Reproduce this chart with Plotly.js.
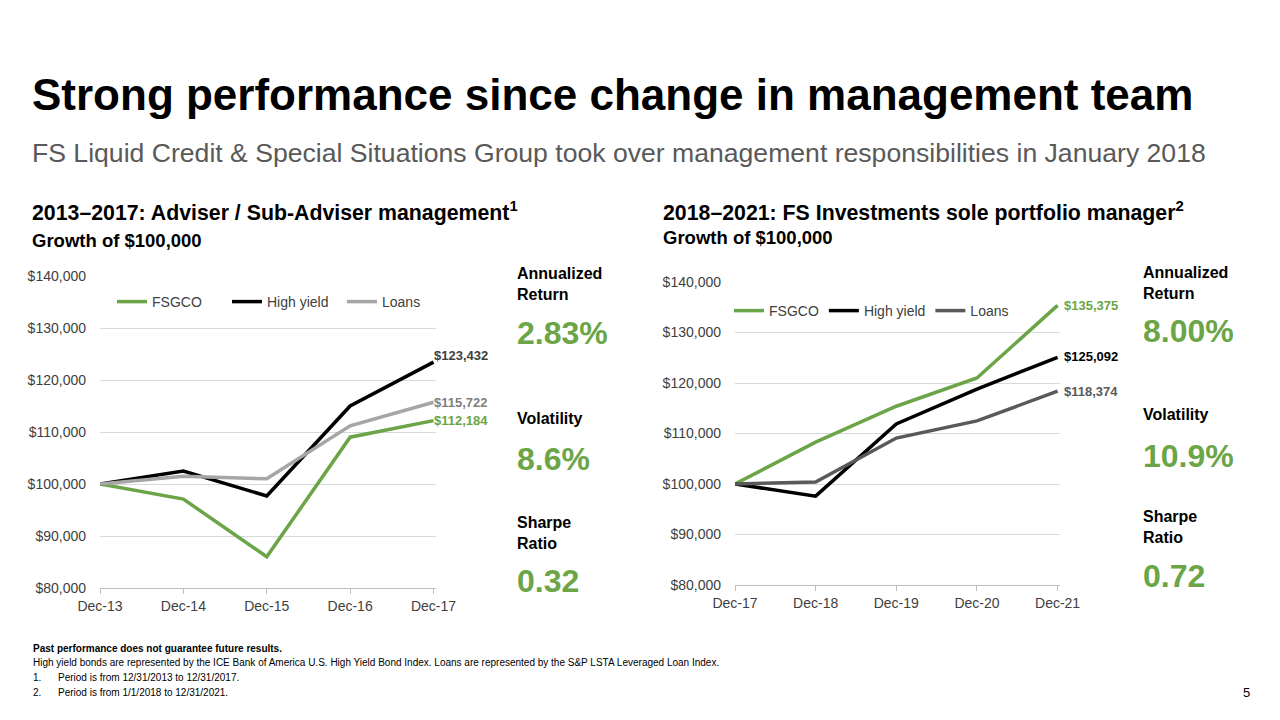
<!DOCTYPE html>
<html>
<head>
<meta charset="utf-8">
<script src="https://cdn.plot.ly/plotly-3.0.1.min.js"></script>
<style>
html,body{margin:0;padding:0;background:#fff;}
#chart{width:1280px;height:720px;}
</style>
</head>
<body>
<div id="chart"></div>
<script>
// ---- Data ----
const periodA = ["Dec-13", "Dec-14", "Dec-15", "Dec-16", "Dec-17"];
const fsgcoA = [100000, 97100, 86000, 109000, 112184];
const highYieldA = [100000, 102500, 97700, 115000, 123432];
const loansA = [100000, 101500, 101000, 111200, 115722];

const periodB = ["Dec-17", "Dec-18", "Dec-19", "Dec-20", "Dec-21"];
const fsgcoB = [100000, 108300, 115400, 121000, 135375];
const highYieldB = [100000, 97600, 111900, 118800, 125092];
const loansB = [100000, 100400, 109100, 112500, 118374];

const seriesNames = ["FSGCO", "High yield", "Loans"];
const yTickVals = [80000, 90000, 100000, 110000, 120000, 130000, 140000];
const yTickText = ["$80,000", "$90,000", "$100,000", "$110,000", "$120,000", "$130,000", "$140,000"];

const statLabels = ["Annualized<br>Return", "Volatility", "Sharpe<br>Ratio"];
const statsA = ["2.83%", "8.6%", "0.32"];
const statsB = ["8.00%", "10.9%", "0.72"];

// ---- Styling ----
const GREEN = "#6BA547";
const BLACK = "#000000";
const LGRAY = "#A6A6A6";
const DGRAY = "#595959";
const FONT = "Liberation Sans, Arial, Helvetica, sans-serif";

const px = x => x / 1280;
const py = y => 1 - y / 720;

function line(x, y, name, color, xa, ya, legend) {
  return {x: x, y: y, name: name, type: "scatter", mode: "lines",
    line: {color: color, width: 3.5}, xaxis: xa, yaxis: ya, legend: legend,
    hoverinfo: "skip"};
}

const data = [
  line(periodA, fsgcoA, seriesNames[0], GREEN, "x", "y", "legend"),
  line(periodA, highYieldA, seriesNames[1], BLACK, "x", "y", "legend"),
  line(periodA, loansA, seriesNames[2], LGRAY, "x", "y", "legend"),
  line(periodB, fsgcoB, seriesNames[0], GREEN, "x2", "y2", "legend2"),
  line(periodB, highYieldB, seriesNames[1], BLACK, "x2", "y2", "legend2"),
  line(periodB, loansB, seriesNames[2], DGRAY, "x2", "y2", "legend2")
];

function xaxis(domain, anchor) {
  return {domain: domain, anchor: anchor, type: "category", range: [0, 4.03],
    showgrid: false, zeroline: false, showline: true, linecolor: "#BFBFBF", linewidth: 1,
    ticks: "outside", ticklen: 5, tickcolor: "#BFBFBF",
    tickfont: {family: FONT, size: 14, color: "#404040"}, fixedrange: true};
}
function yaxis(domain, anchor) {
  return {domain: domain, anchor: anchor, range: [80000, 140000],
    tickvals: yTickVals, ticktext: yTickText, showgrid: true, gridcolor: "#D9D9D9", gridwidth: 1,
    zeroline: false, showline: false, ticks: "", ticklabelstandoff: 13,
    tickfont: {family: FONT, size: 14, color: "#404040"}, fixedrange: true};
}

const fmt = v => "$" + v.toLocaleString("en-US");

const annotations = [];
function txt(x, y, text, size, color, bold) {
  annotations.push({xref: "paper", yref: "paper", x: px(x), y: py(y),
    xanchor: "left", yanchor: "middle", showarrow: false, align: "left",
    text: bold ? "<b>" + text + "</b>" : text,
    font: {family: FONT, size: size, color: color}});
}

txt(30, 95, "Strong performance since change in management team", 44, "#000", true);
txt(30, 153, "FS Liquid Credit & Special Situations Group took over management responsibilities in January 2018", 26.6, "#595959", false);
txt(30, 211, "2013–2017: Adviser / Sub-Adviser management<sup>1</sup>", 21.3, "#000", true);
txt(30, 241, "Growth of $100,000", 18.5, "#000", true);
txt(661, 211, "2018–2021: FS Investments sole portfolio manager<sup>2</sup>", 21.3, "#000", true);
txt(661, 238, "Growth of $100,000", 18.5, "#000", true);

// stats
function stats(x, yl, vals) {
  txt(x, yl[0], statLabels[0], 16, "#000", true);
  txt(x, yl[1], vals[0], 32, GREEN, true);
  txt(x, yl[2], statLabels[1], 16, "#000", true);
  txt(x, yl[3], vals[1], 32, GREEN, true);
  txt(x, yl[4], statLabels[2], 16, "#000", true);
  txt(x, yl[5], vals[2], 32, GREEN, true);
}
stats(515, [284, 333, 418, 459, 533, 581], statsA);
stats(1141, [283, 331, 415, 456, 527, 576], statsB);

// end-of-line labels
function endLabel(xa, ya, cat, v, color, xs, ys) {
  annotations.push({xref: xa, yref: ya, x: cat, y: v, text: "<b>" + fmt(v) + "</b>",
    showarrow: false, xanchor: "left", yanchor: "middle", xshift: xs, yshift: ys,
    font: {family: FONT, size: 13, color: color}});
}
endLabel("x", "y", periodA[4], highYieldA[4], "#404040", -2, 7);
endLabel("x", "y", periodA[4], loansA[4], "#7F7F7F", -2, 0);
endLabel("x", "y", periodA[4], fsgcoA[4], GREEN, -2, 0);
endLabel("x2", "y2", periodB[4], fsgcoB[4], GREEN, 4, 0);
endLabel("x2", "y2", periodB[4], highYieldB[4], BLACK, 4, 1);
endLabel("x2", "y2", periodB[4], loansB[4], DGRAY, 4, 0);

// footnotes
txt(31, 648, "Past performance does not guarantee future results.", 10, "#000", true);
txt(31, 662, "High yield bonds are represented by the ICE Bank of America U.S. High Yield Bond Index. Loans are represented by the S&P LSTA Leveraged Loan Index.", 10, "#000", false);
txt(31, 677, "1.", 10, "#000", false);
txt(56, 677, "Period is from 12/31/2013 to 12/31/2017.", 10, "#000", false);
txt(31, 692, "2.", 10, "#000", false);
txt(56, 692, "Period is from 1/1/2018 to 12/31/2021.", 10, "#000", false);
txt(1241, 692, "5", 13, "#000", false);

const legendBase = {orientation: "h", bgcolor: "rgba(0,0,0,0)", yanchor: "middle", xanchor: "left",
  font: {family: FONT, size: 14, color: "#404040"}, itemwidth: 30, tracegroupgap: 0};

const layout = {
  width: 1280, height: 720, margin: {l: 0, r: 0, t: 0, b: 0},
  paper_bgcolor: "#fff", plot_bgcolor: "#fff",
  font: {family: FONT},
  showlegend: true,
  xaxis: xaxis([px(100), px(436)], "y"),
  yaxis: yaxis([py(588), py(276)], "x"),
  xaxis2: xaxis([px(735), px(1060)], "y2"),
  yaxis2: yaxis([py(585), py(282)], "x2"),
  legend: Object.assign({}, legendBase, {x: px(112), y: py(302), entrywidth: 70}),
  legend2: Object.assign({}, legendBase, {x: px(729), y: py(311)}),
  annotations: annotations
};

Plotly.newPlot("chart", data, layout, {staticPlot: true, displayModeBar: false});
</script>
</body>
</html>
